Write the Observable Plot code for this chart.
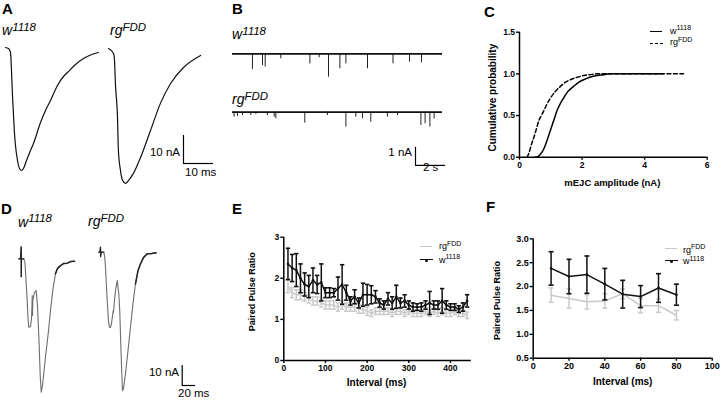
<!DOCTYPE html>
<html><head><meta charset="utf-8">
<script src="https://cdn.jsdelivr.net/npm/d3@7"></script>
<script src="https://cdn.jsdelivr.net/npm/@observablehq/plot@0.6"></script>
<style>
body{margin:0;background:#fff;}
#fig{position:relative;width:720px;height:400px;overflow:hidden;font-family:"Liberation Sans",Arial,sans-serif;color:#000;background:#fff;}
.t{position:absolute;white-space:nowrap;line-height:1;}
.letter{font-weight:bold;font-size:15px;}
.gene{font-style:italic;font-size:14px;}
.gene .sp{font-size:11.5px;position:relative;top:-4.5px;}
.sb{font-size:11.5px;}
.lg{font-size:9px;}
.lg .sp{font-size:7px;position:relative;top:-3.5px;}
.ln{position:absolute;height:0;}
</style></head>
<body><div id="fig"></div>
<script>
// ---------------- DATA ----------------
// Panel A: evoked EJC traces (time ms, current nA)
const aW_t = [0,1,1.67,2,2.33,2.67,3,3.33,4,4.67,5.33,6,7,8.33,9.33,11.67,13.33,15,17.33,19.33,20.67,23.33,26,28.33,31];
const aW_I = [0,-0.36,-1.79,-8.21,-17.14,-24.29,-30.71,-35,-40.36,-43.21,-43.93,-43.21,-40.36,-36.79,-34.29,-26.79,-22.5,-18.93,-13.57,-10.36,-8.93,-6.07,-3.93,-2.68,-1.79];
const aR_t = [0,1.7,2,2.3,3,3.3,4,4.7,5.7,6.7,8.3,10.7,14,17.3,20.7,25,30.7];
const aR_I = [0,-1.8,-4.3,-12.5,-24.6,-36.4,-43.6,-47.1,-48.2,-47.1,-44.6,-38.9,-29.3,-19.6,-12.5,-6.8,-2.5];
// Panel B: spontaneous mEJC events (time s, amplitude nA), 14 s traces
const bLen = 14;
const bW_t = [1.33,2.0,2.18,3.22,5.16,5.78,6.4,7.16,7.56,9.0,10.7,11.8,12.6];
const bW_a = [0.87,0.65,0.74,0.28,0.56,0.22,1.30,0.83,0.56,0.83,0.56,0.46,0.5];
const bR_t = [0.11,0.33,0.67,1.22,1.56,2.33,2.78,2.89,4.82,6.33,7.56,8.22,8.67,9.22,10.33,11.0,12.56,12.84,13.16,13.44];
const bR_a = [0.28,0.24,0.19,0.19,0.13,0.19,0.28,0.37,0.61,0.19,0.83,0.28,0.37,0.56,0.28,0.19,0.74,0.65,0.83,0.37];
// Panel C: cumulative probability of mEJC amplitude (nA)
const cW_x = [0.5,0.6,0.72,0.8,0.88,0.96,1.04,1.12,1.2,1.3,1.41,1.55,1.73,1.9,2.05,2.25,2.48,2.7,2.9,3.5,4.0,4.6];
const cW_y = [0,0.01,0.06,0.12,0.2,0.29,0.38,0.47,0.56,0.64,0.71,0.79,0.85,0.9,0.93,0.96,0.98,0.99,1.0,1.0,1.0,1.0];
const cR_x = [0.25,0.3,0.38,0.46,0.54,0.62,0.7,0.78,0.88,0.99,1.15,1.31,1.47,1.63,1.85,2.05,2.25,2.48,3.0,4.0,5.24];
const cR_y = [0,0.05,0.15,0.24,0.34,0.44,0.5,0.56,0.64,0.71,0.79,0.85,0.9,0.93,0.96,0.98,0.99,1.0,1.0,1.0,1.0];
const cTicksX = [0,2,4,6];
const cTicksY = [0,0.5,1.0,1.5];
// Panel D: paired-pulse traces (time ms, current nA)
const dW_t = [0,2.5,3.6,3.7,4,7.5,9.3,10.8,12.6,13.8,15,17.6,19,19.8,20.1,20.6,21,23.5,26.1,28,30.3,32.1,33.6,35.5,40,44.6,47.5,51.3,55,58,62.5,67,72.6,77.5,83.5];
const dW_I = [0,0,6,-9,0,0,-1.9,-10.8,-20.8,-29.9,-34.2,-33.8,-29.9,-23.4,-18.4,-28.4,-20.8,-16.9,-15.9,-23.4,-40.9,-58.4,-66.7,-63.4,-49.2,-35.9,-25.9,-14.9,-7.5,-4.9,-3.4,-2.4,-2.2,-1.4,-1.2];
const dR_t = [0,1.8,2.5,2.7,3.3,7.5,8.8,10,12.6,14.5,16,17.5,19,20.6,21.6,22,23.5,25,27.6,30,31.4,32.5,34,35.5,37,40,43.8,47.5,51.3,55,58.8,62.6,67,72.6,79,86];
const dR_I = [0,0,2.5,-2.2,0,0,-2.2,-7.5,-24.2,-34.2,-37.5,-37.7,-35.8,-31.7,-29.2,-30.2,-24.2,-19.2,-14.2,-20.8,-29.2,-40.8,-56.7,-69.2,-68.2,-60.8,-49.2,-37.5,-25.7,-15.8,-9.2,-5.8,-2.7,-0.8,-0.7,-0.3];
// Panel E: paired pulse ratio vs interval (ms)
const eInt = [10,20,30,40,50,60,70,80,90,100,110,120,130,140,150,160,170,180,190,200,210,220,230,240,250,260,270,280,290,300,310,320,330,340,350,360,370,380,390,400,410,420,430,440];
const eW = [2.35,2.25,2.2,2.0,1.85,1.8,1.95,1.85,1.9,1.65,1.65,1.65,1.75,1.85,1.65,1.45,1.55,1.4,1.6,1.6,1.6,1.55,1.4,1.35,1.5,1.4,1.55,1.4,1.45,1.35,1.3,1.3,1.3,1.35,1.4,1.35,1.35,1.45,1.35,1.3,1.3,1.25,1.3,1.45];
const eWerr = [0.38,0.33,0.4,0.35,0.28,0.27,0.3,0.22,0.45,0.12,0.12,0.1,0.28,0.48,0.18,0.1,0.17,0.12,0.28,0.25,0.22,0.15,0.1,0.1,0.15,0.15,0.28,0.12,0.15,0.1,0.1,0.08,0.1,0.1,0.28,0.1,0.1,0.3,0.1,0.08,0.08,0.08,0.1,0.15];
const eR = [1.8,1.65,1.6,1.6,1.55,1.5,1.45,1.45,1.4,1.35,1.35,1.35,1.3,1.35,1.3,1.3,1.3,1.25,1.25,1.2,1.15,1.2,1.2,1.2,1.2,1.15,1.2,1.2,1.15,1.2,1.15,1.15,1.15,1.2,1.15,1.2,1.15,1.2,1.15,1.15,1.2,1.15,1.15,1.1];
const eRerr = [0.15,0.12,0.12,0.12,0.1,0.1,0.1,0.1,0.1,0.1,0.1,0.1,0.1,0.1,0.1,0.1,0.1,0.1,0.1,0.1,0.08,0.08,0.08,0.08,0.08,0.08,0.08,0.08,0.08,0.08,0.08,0.08,0.08,0.08,0.08,0.08,0.08,0.08,0.08,0.08,0.08,0.08,0.08,0.08];
const eTicksX = [0,100,200,300,400];
const eTicksY = [0,1,2,3];
// Panel F: paired pulse ratio, short intervals
const fInt = [10,20,30,40,50,60,70,80];
const fW = [2.38,2.21,2.25,2.05,1.84,1.79,1.97,1.83];
const fWerr = [0.35,0.36,0.39,0.33,0.29,0.23,0.3,0.22];
const fR = [1.82,1.75,1.68,1.7,1.85,1.6,1.6,1.4];
const fRerr = [0.15,0.2,0.15,0.15,0.1,0.15,0.14,0.1];
const fTicksX = [0,20,40,60,80,100];
const fTicksY = [0.5,1.0,1.5,2.0,2.5,3.0];
const GRAY = "#c9c9c9";

// ---------------- LAYOUT ----------------
const fig = document.getElementById("fig");
const FONT = '"Liberation Sans", Arial, sans-serif';
function place(svg, left, top){
  svg.style.position = "absolute"; svg.style.left = left + "px"; svg.style.top = top + "px";
  fig.appendChild(svg);
}
function txt(html, cls, pos){
  const d = document.createElement("div");
  d.className = "t " + cls; d.innerHTML = html;
  for (const k in pos) d.style[k] = pos[k] + "px";
  fig.appendChild(d); return d;
}
function hline(left, top, width, style){
  const d = document.createElement("div"); d.className = "ln";
  d.style.left = left + "px"; d.style.top = top + "px"; d.style.width = width + "px";
  d.style.borderTop = style; fig.appendChild(d);
}
function dotDiv(cx, cy, r, color){
  const d = document.createElement("div");
  Object.assign(d.style, {position:"absolute", left:(cx-r)+"px", top:(cy-r)+"px", width:2*r+"px", height:2*r+"px", borderRadius:"50%", background:color});
  fig.appendChild(d);
}
const sty = (extra={}) => Object.assign({background:"transparent", overflow:"visible", fontFamily:FONT, color:"#000"}, extra);
const capSym = {draw(ctx, size){ const w = Math.sqrt(size/Math.PI); ctx.moveTo(-w,0); ctx.lineTo(w,0); }};
const gene = (a, b) => `${a}<span class="sp">${b}</span>`;

// ---- Panel A ----
const offA = {dt: 103/3, dI: -1/2.8};
const dataA = [
  ...aW_t.map((t,i)=>({t, I:aW_I[i], g:"w1118"})),
  ...aR_t.map((t,i)=>({t:t+offA.dt, I:aR_I[i]+offA.dI, g:"rgFDD"}))
];
const sbA = [{t0:59.33, I0:-41.43, nA:10, ms:10}];
place(Plot.plot({
  width:230, height:200, margin:0, style:sty(),
  x:{domain:[-5/3, 75], axis:null}, y:{domain:[-54.643, 16.786], axis:null},
  marks:[
    Plot.line(dataA, {x:"t", y:"I", z:"g", stroke:"#111", strokeWidth:1.2, curve:"monotone-x"}),
    Plot.ruleX(sbA, {x:"t0", y1:"I0", y2:d=>d.I0+d.nA, stroke:"#000", strokeWidth:1.2}),
    Plot.ruleY(sbA, {y:"I0", x1:"t0", x2:d=>d.t0+d.ms, stroke:"#000", strokeWidth:1.2})
  ]
}), 0, 0);

// ---- Panel B ----
const offB = [0, -3.24];
const baseB = [{g:0, off:offB[0]}, {g:1, off:offB[1]}];
const spikesB = [
  ...bW_t.map((t,i)=>({t, y1:offB[0], y2:offB[0]-bW_a[i]})),
  ...bR_t.map((t,i)=>({t, y1:offB[1], y2:offB[1]-bR_a[i]}))
];
const sbB = [{t0:12.2, I0:-6.2, nA:1, s:2}];
place(Plot.plot({
  width:230, height:200, margin:0, style:sty(),
  x:{domain:[-2/15, 228/15], axis:null}, y:{domain:[-8.15, 2.96], axis:null},
  marks:[
    Plot.ruleX(spikesB, {x:"t", y1:"y1", y2:"y2", stroke:"#222", strokeWidth:1}),
    Plot.ruleY(baseB, {y:"off", x1:0, x2:bLen, stroke:"#111", strokeWidth:1.8}),
    Plot.ruleX(sbB, {x:"t0", y1:"I0", y2:d=>d.I0+d.nA, stroke:"#000", strokeWidth:1.2}),
    Plot.ruleY(sbB, {y:"I0", x1:"t0", x2:d=>d.t0+d.s, stroke:"#000", strokeWidth:1.2})
  ]
}), 230, 0);

// ---- Panel C ----
const dataC = [
  ...cW_x.map((x,i)=>({x, y:cW_y[i], g:"w1118"})),
  ...cR_x.map((x,i)=>({x, y:cR_y[i], g:"rgFDD"}))
];
place(Plot.plot({
  width:260, height:200, marginLeft:59, marginRight:13.3, marginTop:31.7, marginBottom:43.3,
  style:sty({fontWeight:"bold"}),
  x:{domain:[0,6]}, y:{domain:[0,1.5]},
  marks:[
    Plot.axisX({ticks:cTicksX, tickFormat:d3.format("d"), tickSize:3, tickPadding:1.5, fontSize:8.5, label:null, strokeWidth:1.4}),
    Plot.axisY({ticks:cTicksY, tickFormat:d3.format(".1f"), tickSize:3, tickPadding:1.5, fontSize:8.5, label:null, strokeWidth:1.4}),
    Plot.ruleX([0], {stroke:"#000", strokeWidth:1.5}),
    Plot.ruleY([0], {stroke:"#000", strokeWidth:1.5}),
    Plot.line(dataC.filter(d=>d.g==="w1118"), {x:"x", y:"y", stroke:"#000", strokeWidth:1.5, curve:"monotone-x"}),
    Plot.line(dataC.filter(d=>d.g==="rgFDD"), {x:"x", y:"y", stroke:"#000", strokeWidth:1.5, strokeDasharray:"4,2.5", curve:"monotone-x"}),
    Plot.text(["Cumulative probability"], {frameAnchor:"left", text:d=>d, rotate:-90, textAnchor:"middle", lineAnchor:"middle", dx:-27, dy:3, fontSize:10}),
    Plot.text(["mEJC amplitude (nA)"], {frameAnchor:"bottom", text:d=>d, textAnchor:"middle", lineAnchor:"middle", dy:26, dx:-1, fontSize:9.5})
  ]
}), 460, 0);

// ---- Panel D ----
const offD = {dt:120, dI:3.3};
const dataD = [
  ...dW_t.map((t,i)=>({t, I:dW_I[i], g:"w1118", r:t})),
  ...dR_t.map((t,i)=>({t:t+offD.dt, I:dR_I[i]+offD.dI, g:"rgFDD", r:t}))
];
const sbD = [{t0:245.1, I0:-63.35, nA:10, ms:20}];
place(Plot.plot({
  width:230, height:200, margin:0, style:sty(),
  x:{domain:[-27.45, 317.54], axis:null}, y:{domain:[-70.85, 29.15], axis:null},
  marks:[
    Plot.line(dataD, {x:"t", y:"I", z:"g", stroke:"#6e6e6e", strokeWidth:1.1}),
    Plot.line(dataD.filter(d=>d.r<=8), {x:"t", y:"I", z:"g", stroke:"#222", strokeWidth:1.3}),
    Plot.line(dataD.filter(d=>d.r>=54), {x:"t", y:"I", z:"g", stroke:"#222", strokeWidth:1.5}),
    Plot.ruleX(sbD, {x:"t0", y1:"I0", y2:d=>d.I0+d.nA, stroke:"#000", strokeWidth:1.2}),
    Plot.ruleY(sbD, {y:"I0", x1:"t0", x2:d=>d.t0+d.ms, stroke:"#000", strokeWidth:1.2})
  ]
}), 0, 200);

// ---- Panel E / F helper ----
function pprPlot(ints, w, wErr, r, rErr, o){
  const W = ints.map((x,i)=>({x, m:w[i], e:wErr[i]}));
  const R = ints.map((x,i)=>({x, m:r[i], e:rErr[i]}));
  return Plot.plot({
    width:o.width, height:200, marginLeft:o.ml, marginRight:o.mr, marginTop:o.mt, marginBottom:o.mb,
    style:sty({fontWeight:"bold"}),
    x:{domain:o.xd}, y:{domain:o.yd},
    marks:[
      Plot.axisX({ticks:o.tx, tickFormat:d3.format("d"), tickSize:3, tickPadding:1.5, fontSize:o.fs, label:null, strokeWidth:1.4}),
      Plot.axisY({ticks:o.ty, tickFormat:o.tf, tickSize:3, tickPadding:1.5, fontSize:o.fs, label:null, strokeWidth:1.4}),
      Plot.ruleX(R, {x:"x", y1:d=>d.m-d.e, y2:d=>d.m+d.e, stroke:GRAY, strokeWidth:1.5}),
      Plot.dot(R, {x:"x", y:d=>d.m+d.e, symbol:capSym, r:o.cap, stroke:GRAY, strokeWidth:1.5, fill:"none"}),
      Plot.dot(R, {x:"x", y:d=>d.m-d.e, symbol:capSym, r:o.cap, stroke:GRAY, strokeWidth:1.5, fill:"none"}),
      Plot.line(R, {x:"x", y:"m", stroke:GRAY, strokeWidth:1.5}),
      Plot.ruleX(W, {x:"x", y1:d=>d.m-d.e, y2:d=>d.m+d.e, stroke:"#111", strokeWidth:1.5}),
      Plot.dot(W, {x:"x", y:d=>d.m+d.e, symbol:capSym, r:o.cap, stroke:"#111", strokeWidth:1.6, fill:"none"}),
      Plot.dot(W, {x:"x", y:d=>d.m-d.e, symbol:capSym, r:o.cap, stroke:"#111", strokeWidth:1.6, fill:"none"}),
      Plot.line(W, {x:"x", y:"m", stroke:"#111", strokeWidth:1.5}),
      Plot.dot(W, {x:"x", y:"m", r:1.3, fill:"#111"}),
      Plot.ruleX([o.xd[0]], {stroke:"#000", strokeWidth:1.5}),
      Plot.ruleY([o.yd[0]], {stroke:"#000", strokeWidth:1.5}),
      Plot.text(["Paired Pulse Ratio"], {frameAnchor:"left", text:d=>d, rotate:-90, textAnchor:"middle", lineAnchor:"middle", dx:o.ydx, dy:o.ydy, fontSize:9}),
      Plot.text(["Interval (ms)"], {frameAnchor:"bottom", text:d=>d, textAnchor:"middle", lineAnchor:"middle", dy:o.xdy, dx:o.xdx, fontSize:10})
    ]
  });
}
place(pprPlot(eInt, eW, eWerr, eR, eRerr, {
  width:245, ml:53.3, mr:4.2, mt:36.7, mb:40, xd:[0,450], yd:[0,3], tx:eTicksX, ty:eTicksY,
  tf:d3.format("d"), fs:8.5, cap:2.2, ydx:-31.5, ydy:-7, xdy:22.5, xdx:-1
}), 230, 200);
place(pprPlot(fInt, fW, fWerr, fR, fRerr, {
  width:250, ml:62.7, mr:8.3, mt:38.3, mb:42.3, xd:[0,100], yd:[0.5,3], tx:fTicksX, ty:fTicksY,
  tf:d3.format(".1f"), fs:9, cap:2.5, ydx:-36.5, ydy:2, xdy:23.5, xdx:0
}), 470, 200);

// ---------------- TEXT ----------------
txt("A", "letter", {left:2, top:1});
txt("B", "letter", {left:232, top:1});
txt("C", "letter", {left:484, top:4});
txt("D", "letter", {left:1, top:200.6});
txt("E", "letter", {left:232, top:200.6});
txt("F", "letter", {left:486, top:199});

txt(gene("w","1118"), "gene", {left:2, top:23.4});
txt(gene("rg","FDD"), "gene", {left:110, top:23.2});
txt(gene("w","1118"), "gene", {left:232, top:27.2});
txt(gene("rg","FDD"), "gene", {left:232, top:92.2});
txt(gene("w","1118"), "gene", {left:18, top:214.9});
txt(gene("rg","FDD"), "gene", {left:88, top:214.2});

txt("10 nA", "sb", {right:540, top:147.3});
txt("10 ms", "sb", {left:185, top:167.3});
txt("1 nA", "sb", {right:308, top:147.3});
txt("2 s", "sb", {left:423, top:162.3});
txt("10 nA", "sb", {right:541, top:367.3});
txt("20 ms", "sb", {left:178, top:388.3});

// legends
hline(650, 31, 12, "1.5px solid #000");
hline(650, 42.6, 13, "1.5px dashed #000");
txt(gene("w","1118"), "lg", {left:670, top:26.7});
txt(gene("rg","FDD"), "lg", {left:670, top:38.4});

hline(420, 246, 12, "1.5px solid " + GRAY);
hline(420, 259.3, 13, "1.5px solid #111"); dotDiv(426.5, 260, 1.5, "#111");
txt(gene("rg","FDD"), "lg", {left:439, top:242.4});
txt(gene("w","1118"), "lg", {left:439, top:255.7});

hline(665, 247.6, 12, "1.5px solid " + GRAY);
hline(665, 260.3, 13, "1.5px solid #111"); dotDiv(671.5, 261, 1.5, "#111");
txt(gene("rg","FDD"), "lg", {left:683, top:245.7});
txt(gene("w","1118"), "lg", {left:683, top:257.4});
</script>
</body></html>
